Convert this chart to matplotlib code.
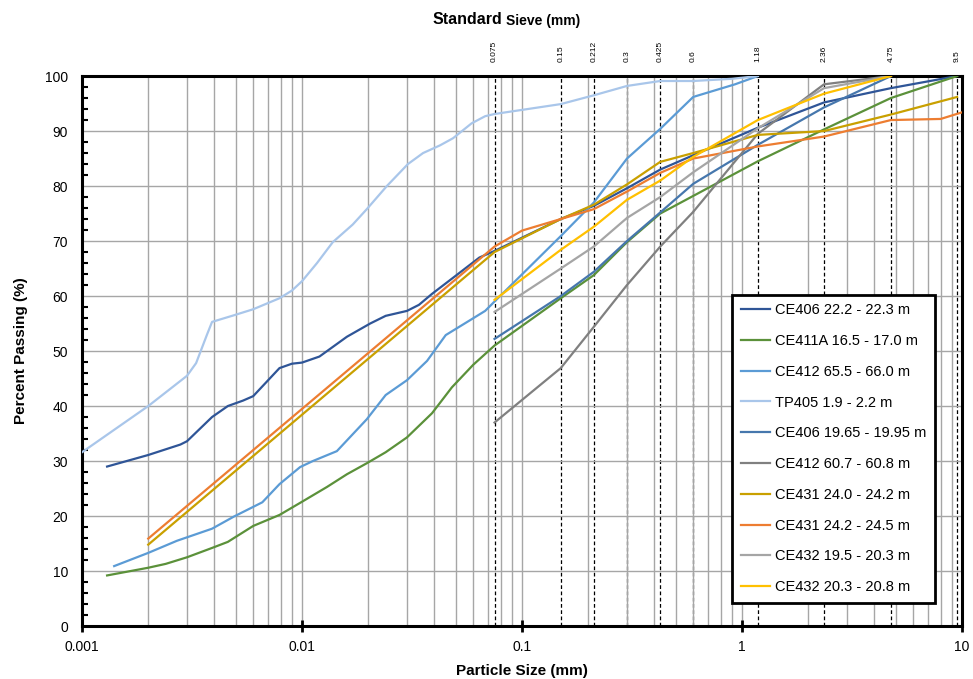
import matplotlib.pyplot as plt
from matplotlib.ticker import FixedLocator, NullFormatter, MultipleLocator

plt.rcParams['font.family'] = ['Liberation Sans', 'DejaVu Sans']

# sieve sizes (mm) on the top axis
sieves = [0.075, 0.15, 0.212, 0.3, 0.425, 0.6, 1.18, 2.36, 4.75, 9.5]
sieve_labels = ['0.075', '0.15', '0.212', '0.3', '0.425', '0.6', '1.18', '2.36', '4.75', '9.5']

# grading curves: particle size (mm) / percent passing
ce406a_x = [0.0013, 0.002, 0.0028, 0.003, 0.0039, 0.0046, 0.0054, 0.006, 0.0079, 0.009, 0.01,
            0.012, 0.016, 0.0204, 0.024, 0.03, 0.034, 0.039, 0.05, 0.064, 0.075,
            0.15, 0.212, 0.3, 0.425, 0.6, 1.18, 2.36, 4.75, 9.5]
ce406a_y = [29.0, 31.1, 33.0, 33.6, 38.0, 40.0, 41.0, 41.8, 46.9, 47.7, 47.9,
            49.0, 52.6, 55.0, 56.4, 57.3, 58.4, 60.4, 63.7, 67.0, 68.2,
            74.0, 76.4, 79.6, 83.0, 85.6, 90.6, 95.2, 97.8, 100.0]

ce411a_x = [0.0013, 0.002, 0.0024, 0.003, 0.0039, 0.0046, 0.006, 0.0079, 0.01, 0.013, 0.016,
            0.0197, 0.024, 0.03, 0.039, 0.048, 0.06, 0.075,
            0.15, 0.212, 0.3, 0.425, 0.6, 1.18, 2.36, 4.75, 9.5]
ce411a_y = [9.2, 10.6, 11.3, 12.5, 14.2, 15.3, 18.2, 20.2, 22.6, 25.3, 27.6,
            29.6, 31.6, 34.3, 38.7, 43.4, 47.5, 51.0,
            59.6, 63.8, 69.8, 75.0, 78.2, 84.5, 90.3, 96.0, 100.0]

ce412a_x = [0.0014, 0.002, 0.0027, 0.0039, 0.0049, 0.0066, 0.0079, 0.0098, 0.0112, 0.0144,
            0.0197, 0.024, 0.03, 0.037, 0.045, 0.058, 0.068, 0.075,
            0.15, 0.212, 0.3, 0.425, 0.6, 0.93, 1.18]
ce412a_y = [10.9, 13.3, 15.5, 17.7, 19.9, 22.5, 25.8, 28.9, 30.0, 31.8,
            37.6, 42.0, 44.7, 48.2, 52.9, 55.6, 57.3, 59.0,
            70.9, 77.0, 85.0, 90.4, 96.2, 98.5, 100.0]

tp405_x = [0.001, 0.002, 0.003, 0.0033, 0.0037, 0.0039, 0.0049, 0.006, 0.0079, 0.009, 0.01,
           0.0117, 0.0138, 0.017, 0.0197, 0.0243, 0.0303, 0.0355, 0.0424, 0.0486, 0.059, 0.068,
           0.075, 0.15, 0.212, 0.3, 0.425, 0.6, 0.9, 1.18]
tp405_y = [31.6, 40.0, 45.5, 47.8, 53.0, 55.3, 56.5, 57.6, 59.6, 61.0, 62.7,
           66.0, 69.8, 73.0, 75.8, 80.0, 84.0, 86.0, 87.4, 88.7, 91.4, 92.7,
           93.1, 94.9, 96.5, 98.2, 99.1, 99.1, 99.5, 100.0]

ce406b_x = [0.075, 0.15, 0.212, 0.3, 0.425, 0.6, 1.18, 2.36, 4.75]
ce406b_y = [52.2, 60.0, 64.4, 70.0, 75.2, 80.4, 87.5, 94.3, 100.0]

ce412b_x = [0.075, 0.15, 0.212, 0.3, 0.425, 0.6, 1.18, 2.36, 4.75]
ce412b_y = [37.0, 46.9, 54.4, 62.0, 69.0, 75.3, 89.5, 98.5, 100.0]

ce431a_x = [0.002, 0.075, 0.15, 0.212, 0.3, 0.425, 0.6, 1.18, 2.36, 4.75, 9.5]
ce431a_y = [14.8, 68.0, 74.0, 76.6, 80.3, 84.4, 86.0, 89.3, 90.0, 93.0, 96.2]

ce431b_x = [0.002, 0.075, 0.1, 0.15, 0.212, 0.3, 0.425, 0.6, 1.18, 2.36, 4.75, 8.0, 10.0]
ce431b_y = [15.9, 69.0, 71.9, 74.0, 75.8, 79.0, 82.4, 85.0, 87.2, 89.0, 92.0, 92.2, 93.4]

ce432a_x = [0.075, 0.15, 0.212, 0.3, 0.425, 0.6, 1.18, 2.36, 4.75]
ce432a_y = [57.1, 65.0, 69.0, 74.2, 78.0, 82.5, 90.5, 97.8, 100.0]

ce432b_x = [0.075, 0.15, 0.212, 0.3, 0.425, 0.6, 1.18, 2.36, 4.75]
ce432b_y = [59.3, 68.4, 72.6, 77.5, 81.0, 85.3, 92.0, 96.8, 100.0]

series = [
    (ce406a_x, ce406a_y, 'CE406 22.2 - 22.3 m', '#2F5597'),
    (ce411a_x, ce411a_y, 'CE411A 16.5 - 17.0 m', '#5B913A'),
    (ce412a_x, ce412a_y, 'CE412 65.5 - 66.0 m', '#5B9BD5'),
    (tp405_x, tp405_y, 'TP405 1.9 - 2.2 m', '#A9C6EA'),
    (ce406b_x, ce406b_y, 'CE406 19.65 - 19.95 m', '#4677AD'),
    (ce412b_x, ce412b_y, 'CE412 60.7 - 60.8 m', '#808080'),
    (ce431a_x, ce431a_y, 'CE431 24.0 - 24.2 m', '#C9A000'),
    (ce431b_x, ce431b_y, 'CE431 24.2 - 24.5 m', '#ED7D31'),
    (ce432a_x, ce432a_y, 'CE432 19.5 - 20.3 m', '#A5A5A5'),
    (ce432b_x, ce432b_y, 'CE432 20.3 - 20.8 m', '#FFC000'),
]

fig = plt.figure(figsize=(9.73, 6.79), dpi=100)
ax = fig.add_axes([0.0843, 0.078, 0.9044, 0.810])

ax.set_xscale('log')
ax.set_xlim(0.001, 10)
ax.set_ylim(0, 100)

# grid like the excel chart
ax.grid(True, which='major', axis='both', color='#A6A6A6', linewidth=1.0)
ax.grid(True, which='minor', axis='x', color='#A6A6A6', linewidth=1.0)
for s in sieves:
    ax.axvline(s, color='black', linestyle=(0, (3, 2)), linewidth=0.9, zorder=1.5)

for x, y, lab, c in series:
    ax.plot(x, y, color=c, linewidth=1.6, label=lab, zorder=3)

ax.set_xticks([0.001, 0.01, 0.1, 1, 10])
ax.set_xticklabels(['0.001', '0.01', '0.1', '1', '10'])
ax.xaxis.set_minor_formatter(NullFormatter())
ax.yaxis.set_major_locator(MultipleLocator(10))
ax.yaxis.set_minor_locator(MultipleLocator(2))
ax.tick_params(axis='x', which='major', direction='inout', length=8, width=2, labelsize=10, pad=6)
ax.tick_params(axis='x', which='minor', length=0)
ax.tick_params(axis='y', which='major', direction='in', length=0, labelsize=10, pad=10)
ax.tick_params(axis='y', which='minor', direction='in', length=4, width=1.5)

for sp in ax.spines.values():
    sp.set_linewidth(2.2)
    sp.set_color('black')

ax.set_xlabel('Particle Size (mm)', fontsize=11, fontweight='bold', labelpad=7)
ax.set_ylabel('Percent Passing (%)', fontsize=11, fontweight='bold', labelpad=12)

top = ax.secondary_xaxis('top')
top.xaxis.set_major_locator(FixedLocator(sieves))
top.set_xticklabels(sieve_labels, rotation=90, fontsize=6)
top.xaxis.set_minor_locator(FixedLocator([]))
top.tick_params(axis='x', length=0, pad=10)
top.spines['top'].set_visible(False)

fig.text(502 / 973, 1 - 20 / 679, 'Standard', fontsize=11.5, fontweight='bold', ha='right', va='center')
fig.text(506 / 973, 1 - 21 / 679, 'Sieve (mm)', fontsize=10, fontweight='bold', ha='left', va='center')

leg = ax.legend(loc='lower right', bbox_to_anchor=(0.969, 0.042), fontsize=10.5, frameon=True,
                fancybox=False, edgecolor='black', framealpha=1, labelspacing=1.15,
                handlelength=2.0, handletextpad=0.3, borderpad=0.6, borderaxespad=0)
leg.get_frame().set_linewidth(2)
leg.set_zorder(5)

fig.savefig('out.png', dpi=100)
